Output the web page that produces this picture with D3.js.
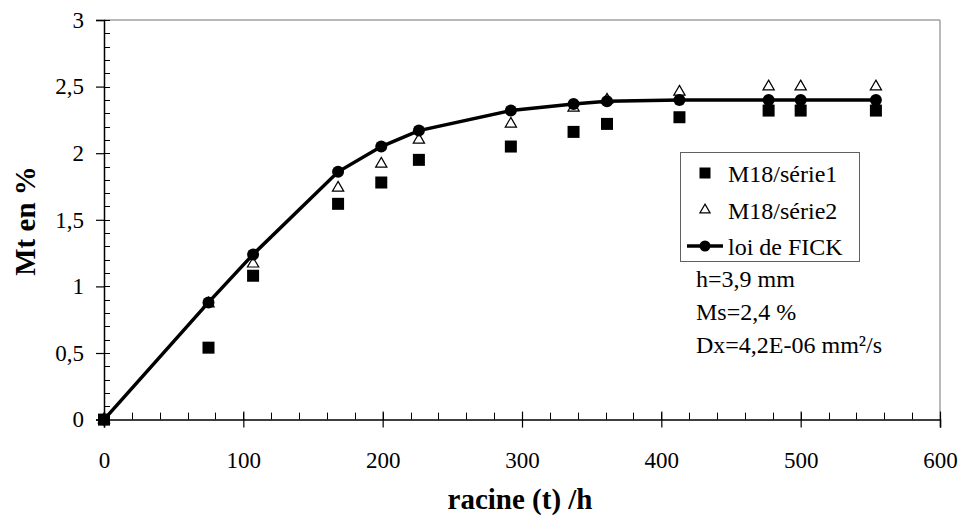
<!DOCTYPE html>
<html>
<head>
<meta charset="utf-8">
<script src="https://cdn.jsdelivr.net/npm/d3@7"></script>
<style>
  body { margin: 0; background: #fff; }
  svg text { font-family: "Liberation Serif", "Times New Roman", Times, serif; }
</style>
</head>
<body>
<svg id="chart" width="963" height="520"></svg>
<script>
// racine (t) values
const xSerie1 = [0, 75, 107, 168, 199, 226, 292, 337, 361, 413, 477, 500, 554];
const ySerie1 = [0, 0.54, 1.08, 1.62, 1.78, 1.95, 2.05, 2.16, 2.22, 2.27, 2.32, 2.32, 2.32];
const xSerie2 = [0, 75, 107, 168, 199, 226, 292, 337, 361, 413, 477, 500, 554];
const ySerie2 = [0, 0.87, 1.17, 1.74, 1.92, 2.10, 2.22, 2.34, 2.40, 2.46, 2.50, 2.50, 2.50];
const xFick = [0, 75, 107, 168, 199, 226, 292, 337, 361, 413, 477, 500, 554];
const yFick = [0, 0.88, 1.24, 1.86, 2.05, 2.17, 2.32, 2.37, 2.39, 2.40, 2.40, 2.40, 2.40];

const legendLabels = ["M18/série1", "M18/série2", "loi de FICK"];
const notes = ["h=3,9 mm", "Ms=2,4 %", "Dx=4,2E-06 mm²/s"];

const xTicks = [0, 100, 200, 300, 400, 500, 600];
const yTicks = [0, 0.5, 1, 1.5, 2, 2.5, 3];

const svg = d3.select("#chart");
const margin = {left: 104, top: 20, right: 963 - 940, bottom: 520 - 419.6};
const W = 963, H = 520;

const x = d3.scaleLinear().domain([0, 600]).range([margin.left, W - margin.right]);
const y = d3.scaleLinear().domain([0, 3]).range([H - margin.bottom, margin.top]);

const fmt = d => String(d).replace(".", ",");

// frame (top and right in grey)
svg.append("line").attr("x1", x(0)).attr("x2", x(600)).attr("y1", y(3)).attr("y2", y(3))
  .attr("stroke", "#a0a0a0").attr("stroke-width", 1.5);
svg.append("line").attr("x1", x(600)).attr("x2", x(600)).attr("y1", y(3)).attr("y2", y(0))
  .attr("stroke", "#a0a0a0").attr("stroke-width", 1.5);

// minor ticks
const g = svg.append("g").attr("stroke", "#000").attr("stroke-width", 1);
g.selectAll(".ymin").data(d3.range(0, 3.001, 0.1)).join("line")
  .attr("x1", x(0)).attr("x2", x(0) + 6)
  .attr("y1", d => Math.round(y(d)) + 0.5).attr("y2", d => Math.round(y(d)) + 0.5);
g.selectAll(".xmin").data(d3.range(0, 600.1, 20)).join("line")
  .attr("x1", d => Math.round(x(d)) + 0.5).attr("x2", d => Math.round(x(d)) + 0.5)
  .attr("y1", y(0)).attr("y2", y(0) - 7);

// axes
const xAxis = svg.append("g").attr("transform", `translate(0,${y(0)})`)
  .call(d3.axisBottom(x).tickValues(xTicks).tickSize(8).tickPadding(24).tickFormat(fmt));
xAxis.selectAll(".tick line").attr("y1", -8);
const yAxis = svg.append("g").attr("transform", `translate(${x(0)},0)`)
  .call(d3.axisLeft(y).tickValues(yTicks).tickSize(8).tickPadding(12).tickFormat(fmt));

[xAxis, yAxis].forEach(a => {
  a.attr("font-family", null);
  a.select(".domain").attr("stroke", "#000").attr("stroke-width", 1.5);
  a.selectAll(".tick line").attr("stroke", "#000").attr("stroke-width", 1.2);
  a.selectAll("text").attr("font-size", 23).attr("fill", "#000");
});

// axis titles
svg.append("text").attr("x", 520).attr("y", 509).attr("text-anchor", "middle")
  .attr("font-size", 29).attr("font-weight", "bold").text("racine (t) /h");
svg.append("text").attr("transform", "translate(35,221) rotate(-90)").attr("text-anchor", "middle")
  .attr("font-size", 29).attr("font-weight", "bold").text("Mt en %");

// series
const fick = d3.zip(xFick, yFick);
const s1 = d3.zip(xSerie1, ySerie1);
const s2 = d3.zip(xSerie2, ySerie2);

svg.append("path").datum(fick)
  .attr("d", d3.line().x(d => x(d[0])).y(d => y(d[1])))
  .attr("fill", "none").attr("stroke", "#000").attr("stroke-width", 3.5);

const sq = 12;
svg.selectAll(".s1").data(s1).join("rect")
  .attr("x", d => x(d[0]) - sq / 2).attr("y", d => y(d[1]) - sq / 2)
  .attr("width", sq).attr("height", sq).attr("fill", "#000");

const tri = d3.symbol().type(d3.symbolTriangle).size(55);
svg.selectAll(".s2").data(s2).join("path")
  .attr("d", tri)
  .attr("transform", d => `translate(${x(d[0])},${y(d[1])})`)
  .attr("fill", "#fff").attr("stroke", "#000").attr("stroke-width", 1.2);

svg.selectAll(".fk").data(fick).join("circle")
  .attr("cx", d => x(d[0])).attr("cy", d => y(d[1])).attr("r", 6).attr("fill", "#000");

// legend
const lg = svg.append("g");
lg.append("rect").attr("x", 680.5).attr("y", 152.5).attr("width", 179).attr("height", 109)
  .attr("fill", "#fff").attr("stroke", "#606060").attr("stroke-width", 1);
const rows = [173, 210, 246];
lg.append("rect").attr("x", 705 - 5.5).attr("y", rows[0] - 5.5).attr("width", 11).attr("height", 11).attr("fill", "#000");
lg.append("path").attr("d", d3.symbol().type(d3.symbolTriangle).size(45))
  .attr("transform", `translate(705,${rows[1]})`).attr("fill", "#fff").attr("stroke", "#000").attr("stroke-width", 1.2);
lg.append("line").attr("x1", 687).attr("x2", 723).attr("y1", rows[2]).attr("y2", rows[2])
  .attr("stroke", "#000").attr("stroke-width", 3.5);
lg.append("circle").attr("cx", 705).attr("cy", rows[2]).attr("r", 5.5).attr("fill", "#000");
lg.selectAll(".lt").data(legendLabels).join("text")
  .attr("x", 728).attr("y", (d, i) => rows[i] + 8.5)
  .attr("font-size", 24).text(d => d);

svg.selectAll(".note").data(notes).join("text")
  .attr("x", 696).attr("y", (d, i) => 287 + i * 33)
  .attr("font-size", 24).text(d => d);
</script>
</body>
</html>
